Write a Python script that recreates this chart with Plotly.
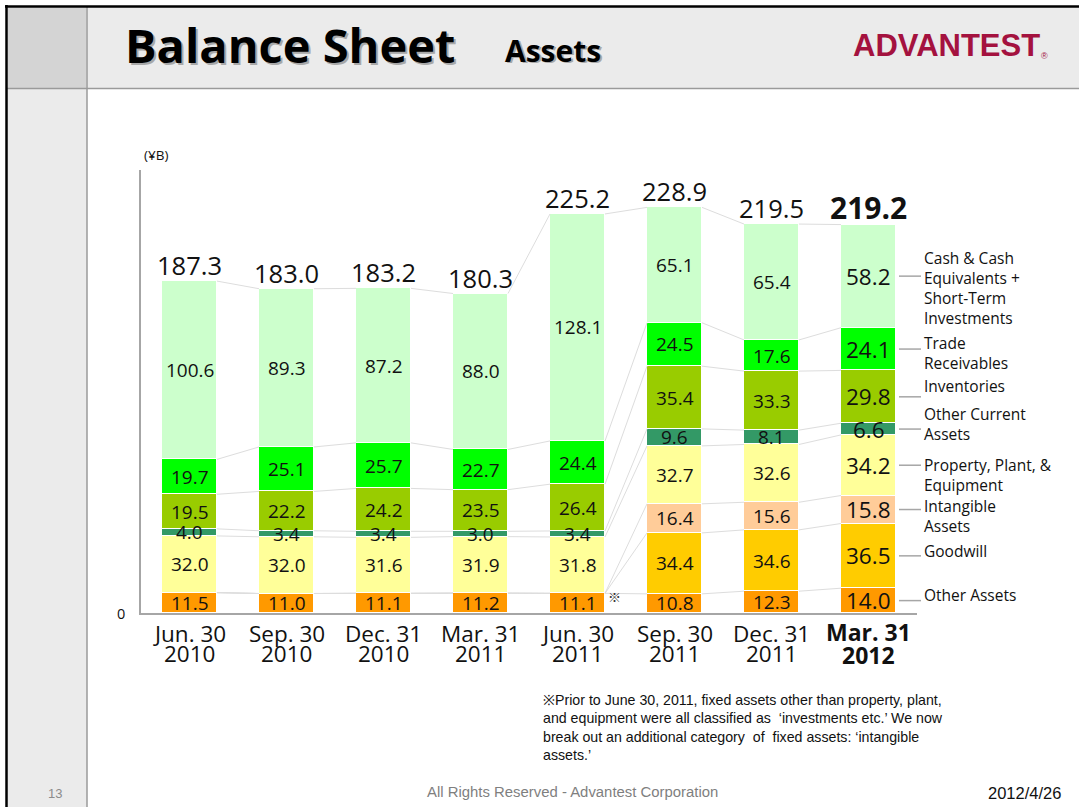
import plotly.graph_objects as go

# ---------------- data ----------------
cat_month = ["Jun. 30", "Sep. 30", "Dec. 31", "Mar. 31", "Jun. 30", "Sep. 30", "Dec. 31", "Mar. 31"]
cat_year = ["2010", "2010", "2010", "2011", "2011", "2011", "2011", "2012"]

other_assets = [11.5, 11.0, 11.1, 11.2, 11.1, 10.8, 12.3, 14.0]
goodwill = [None, None, None, None, None, 34.4, 34.6, 36.5]
intangible = [None, None, None, None, None, 16.4, 15.6, 15.8]
ppe = [32.0, 32.0, 31.6, 31.9, 31.8, 32.7, 32.6, 34.2]
other_current = [4.0, 3.4, 3.4, 3.0, 3.4, 9.6, 8.1, 6.6]
inventories = [19.5, 22.2, 24.2, 23.5, 26.4, 35.4, 33.3, 29.8]
trade_receivables = [19.7, 25.1, 25.7, 22.7, 24.4, 24.5, 17.6, 24.1]
cash = [100.6, 89.3, 87.2, 88.0, 128.1, 65.1, 65.4, 58.2]
totals = [187.3, 183.0, 183.2, 180.3, 225.2, 228.9, 219.5, 219.2]

series_values = [other_assets, goodwill, intangible, ppe, other_current,
                 inventories, trade_receivables, cash]
series_names = ["Other Assets", "Goodwill", "Intangible Assets",
                "Property, Plant, & Equipment", "Other Current Assets",
                "Inventories", "Trade Receivables",
                "Cash & Cash Equivalents + Short-Term Investments"]
series_labels = ["Other Assets", "Goodwill", "Intangible<br>Assets",
                 "Property, Plant, &<br>Equipment", "Other Current<br>Assets",
                 "Inventories", "Trade<br>Receivables",
                 "Cash & Cash<br>Equivalents +<br>Short-Term<br>Investments"]
colors = ["#FF9900", "#FFCC00", "#FFCC99", "#FFFF99", "#339966",
          "#99CC00", "#00FF00", "#CCFFCC"]
label_yshift = [6, 5, -6, -10, 5, 11, -4, -12]

# ---------------- geometry helpers ----------------
W, H = 1079, 807
L, R, T, B = 141, 162, 170, 194
PW, PH = W - L - R, H - T - B


def px(x):
    return (x - L) / PW


def py(y):
    return (H - B - y) / PH


FONT = "Open Sans"
n = len(cat_month)
xs = list(range(n))
BW = 0.567

fig = go.Figure()

# cumulative boundaries
bounds = []
run = [0.0] * n
for vals in series_values:
    base = run[:]
    run = [run[i] + (vals[i] or 0) for i in range(n)]
    bounds.append((base, run[:]))

# connector lines between bars
for base, top in bounds:
    lx, ly = [], []
    for i in range(n - 1):
        lx += [i + BW / 2, i + 1 - BW / 2, None]
        ly += [top[i], top[i + 1], None]
    fig.add_trace(go.Scatter(x=lx, y=ly, mode="lines",
                             line=dict(color="#dddddd", width=1),
                             hoverinfo="skip", showlegend=False))

# bars
for vals, name, col in zip(series_values, series_names, colors):
    fig.add_trace(go.Bar(x=xs, y=vals, name=name, width=BW,
                         marker=dict(color=col, line=dict(color="white", width=1.5)),
                         showlegend=False))

annotations = []
shapes = []

# segment value labels
for (base, top), vals in zip(bounds, series_values):
    for i in range(n):
        v = vals[i]
        if v is None:
            continue
        last = i == n - 1
        annotations.append(dict(x=i, y=base[i] + v / 2, xref="x", yref="y",
                                text=f"{v:.1f}", showarrow=False, yanchor="middle",
                                font=dict(family=FONT, size=22.5 if last else 19, color="#111111")))

# totals
for i, t in enumerate(totals):
    last = i == n - 1
    annotations.append(dict(x=i, y=t, xref="x", yref="y", yanchor="bottom",
                            yshift=-5 if last else -3,
                            text=(f"<b>{t:.1f}</b>" if last else f"{t:.1f}"),
                            showarrow=False,
                            font=dict(family=FONT, size=30 if last else 25.5, color="#111111")))

# category labels (two tight lines)
for i in range(n):
    last = i == n - 1
    m = f"<b>{cat_month[i]}</b>" if last else cat_month[i]
    yv = f"<b>{cat_year[i]}</b>" if last else cat_year[i]
    sz = 23 if last else 22.5
    annotations.append(dict(x=i, y=py(632 if last else 633), xref="x", yref="paper",
                            text=m, showarrow=False, yanchor="middle",
                            font=dict(family=FONT, size=sz, color="#111111")))
    annotations.append(dict(x=i, y=py(655 if last else 653), xref="x", yref="paper",
                            text=yv, showarrow=False, yanchor="middle",
                            font=dict(family=FONT, size=sz, color="#111111")))

# right-side series labels with leader lines (at last bar segment middles)
for (base, top), vals, lab, ysh in zip(bounds, series_values, series_labels, label_yshift):
    mid = base[-1] + vals[-1] / 2
    shapes.append(dict(type="line", xref="paper", yref="y",
                       x0=px(899), x1=px(921), y0=mid, y1=mid,
                       line=dict(color="#a6a6a6", width=1.5)))
    annotations.append(dict(x=px(922), y=mid, xref="paper", yref="y",
                            xanchor="left", yanchor="middle", align="left",
                            yshift=ysh, text=lab, showarrow=False,
                            font=dict(family=FONT, size=15.5, color="#111111")))

# axis unit and zero
annotations.append(dict(x=px(142), y=py(155), xref="paper", yref="paper",
                        yanchor="middle", text="(¥B)", showarrow=False,
                        font=dict(family=FONT, size=13.5, color="#111111")))
annotations.append(dict(x=px(127), y=py(613), xref="paper", yref="paper",
                        xanchor="right", yanchor="middle", text="0", showarrow=False,
                        font=dict(family=FONT, size=14.5, color="#111111")))
# footnote mark
annotations.append(dict(x=px(614), y=py(596), xref="paper", yref="paper",
                        yanchor="middle", text="※", showarrow=False,
                        font=dict(family="Noto Sans CJK JP", size=13, color="#333333")))

# ---------------- slide decorations ----------------
shapes += [
    dict(type="rect", xref="paper", yref="paper", x0=px(7), x1=px(W), y0=py(7), y1=py(88),
         fillcolor="#ebebeb", line=dict(width=0), layer="below"),
    dict(type="rect", xref="paper", yref="paper", x0=px(7), x1=px(87), y0=py(88), y1=py(H),
         fillcolor="#ebebeb", line=dict(width=0), layer="below"),
    dict(type="rect", xref="paper", yref="paper", x0=px(8), x1=px(86), y0=py(8), y1=py(88),
         fillcolor="#d4d4d4", line=dict(width=0), layer="below"),
    dict(type="line", xref="paper", yref="paper", x0=px(7), x1=px(W), y0=py(88.5), y1=py(88.5),
         line=dict(color="#9a9a9a", width=1.5)),
    dict(type="line", xref="paper", yref="paper", x0=px(87), x1=px(87), y0=py(7), y1=py(H),
         line=dict(color="#9a9a9a", width=1.5)),
    dict(type="line", xref="paper", yref="paper", x0=px(5), x1=px(W), y0=py(6.5), y1=py(6.5),
         line=dict(color="#000000", width=2.5)),
    dict(type="line", xref="paper", yref="paper", x0=px(6.5), x1=px(6.5), y0=py(5), y1=py(H),
         line=dict(color="#000000", width=2.5)),
]

# title with shadow
for dx, col in [(2, "#a8a8a8"), (0, "#000000")]:
    annotations.append(dict(x=px(123 + dx), y=py(45 + dx), xref="paper", yref="paper",
                            xanchor="left", yanchor="middle", text="<b>Balance Sheet</b>",
                            showarrow=False, font=dict(family=FONT, size=47, color=col)))
    annotations.append(dict(x=px(503 + dx), y=py(50 + dx), xref="paper", yref="paper",
                            xanchor="left", yanchor="middle", text="<b>Assets</b>",
                            showarrow=False, font=dict(family=FONT, size=30, color=col)))
# logo
annotations.append(dict(x=px(851), y=py(46), xref="paper", yref="paper",
                        xanchor="left", yanchor="middle", text="<b>ADVANTEST</b>",
                        showarrow=False,
                        font=dict(family="Liberation Sans", size=31, color="#A4123F")))
annotations.append(dict(x=px(1039), y=py(56), xref="paper", yref="paper",
                        xanchor="left", yanchor="middle", text="®",
                        showarrow=False,
                        font=dict(family="Liberation Sans", size=9, color="#A4123F")))

# footnote
annotations.append(dict(x=px(541), y=py(690), xref="paper", yref="paper",
                        xanchor="left", yanchor="top", align="left",
                        text=("※Prior to June 30, 2011, fixed assets other than property, plant,<br>"
                              "and equipment were all classified as  ‘investments etc.’ We now<br>"
                              "break out an additional category  of  fixed assets: ‘intangible<br>"
                              "assets.’"),
                        showarrow=False,
                        font=dict(family="Liberation Sans", size=14.2, color="#111111")))

# footer
annotations.append(dict(x=px(46), y=py(793), xref="paper", yref="paper",
                        yanchor="middle", text="13", showarrow=False,
                        font=dict(family="Liberation Sans", size=13, color="#8c8c8c")))
annotations.append(dict(x=px(572), y=py(792), xref="paper", yref="paper",
                        yanchor="middle", text="All Rights Reserved - Advantest Corporation",
                        showarrow=False,
                        font=dict(family="Liberation Sans", size=14.9, color="#7f7f7f")))
annotations.append(dict(x=px(1063), y=py(793), xref="paper", yref="paper",
                        xanchor="right", yanchor="middle", text="2012/4/26", showarrow=False,
                        font=dict(family="Liberation Sans", size=16.5, color="#111111")))

fig.update_layout(
    width=W, height=H,
    margin=dict(l=L, r=R, t=T, b=B, pad=0),
    barmode="stack", bargap=0,
    paper_bgcolor="white", plot_bgcolor="white",
    showlegend=False,
    xaxis=dict(range=[-0.5, n - 0.5], showgrid=False, zeroline=False,
               showticklabels=False, ticks="", showline=True,
               linecolor="#a6a6a6", linewidth=1.5, fixedrange=True),
    yaxis=dict(range=[0, 250], showgrid=False, zeroline=False,
               showticklabels=False, ticks="", showline=True,
               linecolor="#a6a6a6", linewidth=1.5, fixedrange=True),
    annotations=annotations,
    shapes=shapes,
)

fig.write_html("out.html", config={"displayModeBar": False},
               post_script="document.body.style.margin='0';document.body.style.overflow='hidden';")
